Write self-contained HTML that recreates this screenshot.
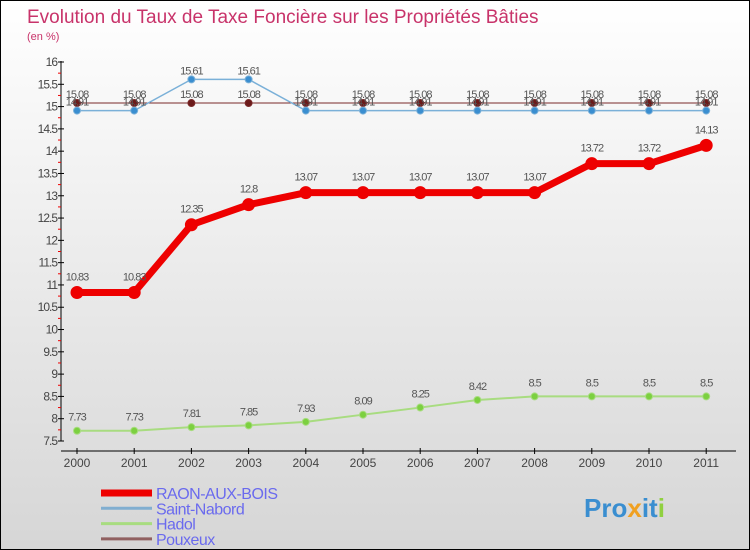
<!DOCTYPE html>
<html><head><meta charset="utf-8"><style>
body{margin:0}
#c{width:750px;height:550px;position:relative;box-sizing:border-box;border:1px solid #000;background:linear-gradient(#fff,#d6d6d6);font-family:"Liberation Sans",sans-serif;overflow:hidden}
svg{position:absolute;left:0;top:0}
</style></head><body>
<div id="c">
<svg id="s" width="750" height="550">
<text x="26" y="22" font-size="19" fill="#c8336a">Evolution du Taux de Taxe Foncière sur les Propriétés Bâties</text>
<text x="26" y="39" font-size="11" fill="#c8336a">(en %)</text>
</svg>
</div>
<script>
const years=["2000","2001","2002","2003","2004","2005","2006","2007","2008","2009","2010","2011"];
const raon=[10.83,10.83,12.35,12.8,13.07,13.07,13.07,13.07,13.07,13.72,13.72,14.13];
const nabord=[14.91,14.91,15.61,15.61,14.91,14.91,14.91,14.91,14.91,14.91,14.91,14.91];
const hadol=[7.73,7.73,7.81,7.85,7.93,8.09,8.25,8.42,8.5,8.5,8.5,8.5];
const pouxeux=[15.08,15.08,15.08,15.08,15.08,15.08,15.08,15.08,15.08,15.08,15.08,15.08];
const yTicks=["7.5","8","8.5","9","9.5","10","10.5","11","11.5","12","12.5","13","13.5","14","14.5","15","15.5","16"];
const NS="http://www.w3.org/2000/svg",s=document.getElementById('s');
const X=i=>76+i*57.2, Y=v=>440-(v-7.5)*(379/8.5);
function mk(t,a,p){const e=document.createElementNS(NS,t);for(const k in a)e.setAttribute(k,a[k]);(p||s).appendChild(e);return e;}
let ax=mk('line',{x1:60,y1:60,x2:60,y2:440,stroke:'#000'});


yTicks.forEach(t=>{const v=+t,y=Y(v);
mk('line',{x1:57,y1:y,x2:63,y2:y,stroke:'#000'});
if(v<16)mk('line',{x1:57,y1:Y(v+0.25),x2:60,y2:Y(v+0.25),stroke:'#e00'});
const e=mk('text',{x:56,y:y+4,'font-size':12,fill:'#444','text-anchor':'end','letter-spacing':'-1'});e.textContent=t;

});
let xa=mk('line',{x1:60,y1:450,x2:735,y2:450,stroke:'#000'});


years.forEach((t,i)=>{mk('line',{x1:X(i),y1:447,x2:X(i),y2:453,stroke:'#000'});
const e=mk('text',{x:X(i),y:466,'font-size':12,fill:'#444','text-anchor':'middle'});e.textContent=t;

});
function series(d,col,w,r,dot,name,dy){
const g=mk('g',{});


mk('polyline',{points:d.map((v,i)=>X(i)+','+Y(v)).join(' '),fill:'none',stroke:col,'stroke-width':w,'stroke-linejoin':'round'},g);
d.forEach((v,i)=>{mk('circle',{cx:X(i),cy:Y(v),r:r,fill:dot,stroke:col,'stroke-width':1},g);
const t=mk('text',{x:X(i),y:Y(v)+dy,'font-size':11,fill:'#555','text-anchor':'middle','letter-spacing':'-1'},g);t.textContent=v;});}
series(pouxeux,'#7a2a2a',1,3.5,'#6b1a1a','series-pouxeux',-5);
series(nabord,'#7ab0d8',1.5,3.5,'#3a8ed0','series-saint-nabord',-5);
series(hadol,'#a8dc80',2,3.5,'#7cd040','series-hadol',-10);
series(raon,'#ee0000',7,6,'#ee0000','series-raon-aux-bois',-12);
const leg=[["RAON-AUX-BOIS","#ee0000",7],["Saint-Nabord","#80aed0",3],["Hadol","#a8dc80",3],["Pouxeux","#906060",3]];
leg.forEach((l,i)=>{const y=492+i*15.3;
mk('line',{x1:100,y1:y,x2:151,y2:y,stroke:l[1],'stroke-width':l[2]});
const t=mk('text',{x:155,y:y+6,'font-size':16,fill:'#6a6aee','letter-spacing':'-0.5'});t.textContent=l[0];

});
const lg=mk('text',{x:583,y:516,'font-size':26,'font-weight':'bold',fill:'#3a8ed0'});


[["Pro","#3a8ed0"],["x","#f0a020"],["it","#3a8ed0"],["i","#90d040"]].forEach(p=>{const ts=mk('tspan',{fill:p[1]},lg);ts.textContent=p[0];});
</script>
</body></html>
